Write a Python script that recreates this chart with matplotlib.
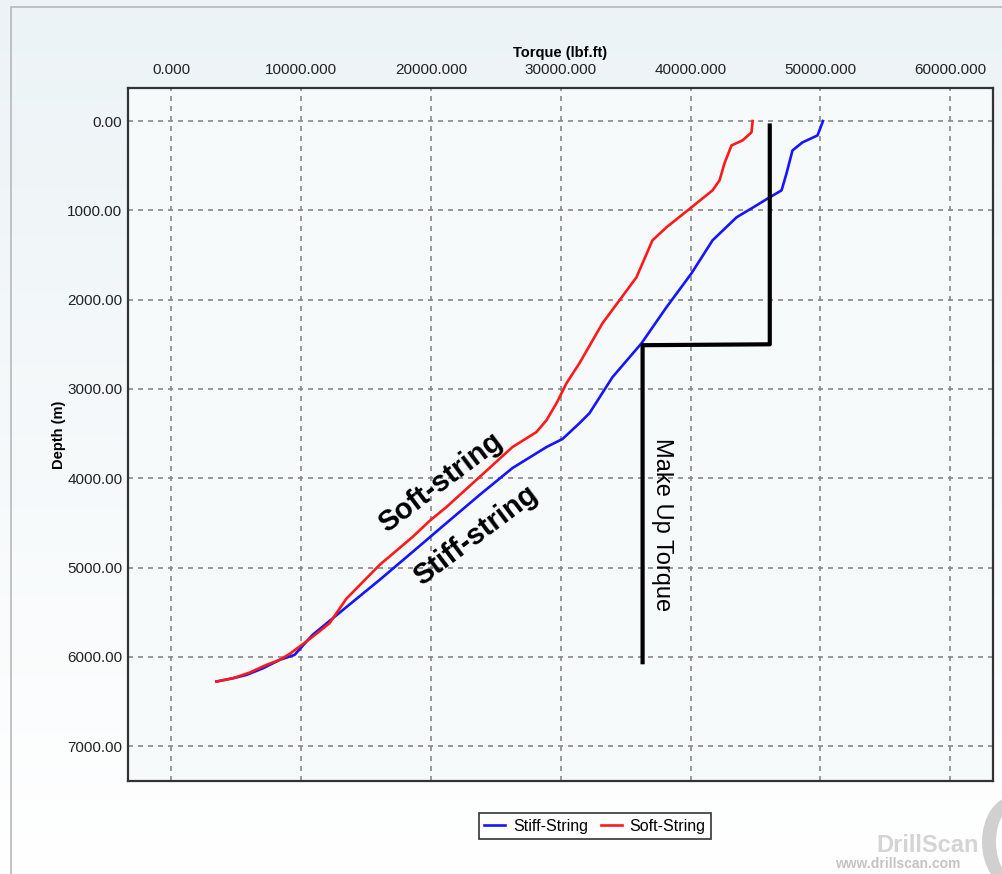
import numpy as np
import matplotlib
matplotlib.use('Agg')
import matplotlib.pyplot as plt
from matplotlib.ticker import FormatStrFormatter, MultipleLocator
from matplotlib.patches import Rectangle, Ellipse

plt.rcParams['font.family'] = ['Liberation Sans', 'DejaVu Sans']

# torque (lbf.ft) vs depth (m)
stiff_torque = [3470, 4750, 5780, 7060, 8330, 9480, 10870, 13490, 16030, 18570,
                21190, 23730, 26270, 28900, 30130, 31440, 32210, 33980,
                36220, 38140, 40070, 41690, 43540, 45080, 46080, 47010, 47390,
                47850, 48620, 49780, 50160, 50200]
stiff_depth = [6276, 6239, 6202, 6127, 6034, 5978, 5754, 5441, 5139, 4826,
               4501, 4188, 3886, 3650, 3560, 3383, 3271, 2868,
               2488, 2085, 1705, 1336, 1078, 944, 855, 776, 586,
               329, 239, 161, 16, 0]

soft_torque = [3470, 4750, 6020, 7310, 8330, 9100, 9870, 10890, 12180, 13470,
               16030, 18570, 19960, 21190, 23730, 26270, 28120, 28900, 29670,
               30440, 31440, 33210, 34520, 35830, 37060, 38140, 40070, 41690,
               42230, 42610, 43150, 44000, 44690, 44770, 44780]
soft_depth = [6276, 6239, 6176, 6090, 6034, 5967, 5885, 5773, 5623, 5350,
              4971, 4658, 4468, 4322, 3987, 3651, 3483, 3349, 3159,
              2935, 2711, 2264, 2007, 1749, 1336, 1190, 966, 776,
              664, 474, 273, 217, 127, 16, 0]

makeup_torque = [46100, 46100, 36300, 36300]
makeup_depth = [50, 2500, 2510, 6060]

fig = plt.figure(figsize=(10.03, 8.74), dpi=100)

# background gradient (light blue-grey at top to white at bottom)
bg = fig.add_axes([0, 0, 1, 1], zorder=-10)
grad = np.linspace(0, 1, 256).reshape(-1, 1)
top_c = np.array([0.925, 0.953, 0.965])
bot_c = np.array([1.0, 1.0, 1.0])
img = top_c + (bot_c - top_c) * grad[..., None]
bg.imshow(img, aspect='auto', extent=[0, 1, 0, 1], origin='upper')
bg.set_xlim(0, 1)
bg.set_ylim(0, 1)
bg.axis('off')
bg.add_patch(Rectangle((11 / 1003, -0.1), 1.2, 1 - 7 / 874 + 0.1,
                       fill=False, edgecolor='#b8b8b8', linewidth=1.2))
# logo crescent
bg.add_patch(Ellipse((1012 / 1003, 1 - 842 / 874), 60 / 1003, 90 / 874,
                     facecolor='#d0d0d0', edgecolor='none'))
bg.add_patch(Ellipse((1024 / 1003, 1 - 842 / 874), 56 / 1003, 84 / 874,
                     facecolor='white', edgecolor='none'))

ax = fig.add_axes([128 / 1003, 1 - 781 / 874, (993 - 128) / 1003, (781 - 88) / 874])
ax.set_facecolor('#f7fafb')

ax.plot(stiff_torque, stiff_depth, color='#1515ff', linewidth=1.9, label='Stiff-String', zorder=3)
ax.plot(soft_torque, soft_depth, color='#ff1a1a', linewidth=1.9, label='Soft-String', zorder=3)
ax.plot(makeup_torque, makeup_depth, color='black', linewidth=3.0, zorder=4)

ax.set_xlim(-3350, 63300)
ax.set_ylim(7390, -370)

ax.xaxis.tick_top()
ax.xaxis.set_label_position('top')
ax.xaxis.set_major_locator(MultipleLocator(10000))
ax.yaxis.set_major_locator(MultipleLocator(1000))
ax.xaxis.set_major_formatter(FormatStrFormatter('%.3f'))
ax.yaxis.set_major_formatter(FormatStrFormatter('%.2f'))
ax.tick_params(axis='both', length=0, labelsize=11, colors='#222222')
ax.tick_params(axis='x', pad=8)
ax.tick_params(axis='y', pad=4)

ax.set_xlabel('Torque (lbf.ft)', fontsize=10.5, fontweight='bold', labelpad=4)
ax.set_ylabel('Depth (m)', fontsize=10.5, fontweight='bold', labelpad=1)

ax.grid(True, color='#888888', linestyle=(0, (3, 3)), linewidth=1.2)
for s in ax.spines.values():
    s.set_color('#333333')
    s.set_linewidth(1.6)

ax.text(20730, 4043, 'Soft-string', rotation=37, fontsize=21, fontweight='bold',
        ha='center', va='center', rotation_mode='anchor')
ax.text(23430, 4635, 'Stiff-string', rotation=37, fontsize=21, fontweight='bold',
        ha='center', va='center', rotation_mode='anchor')
ax.text(37830, 4524, 'Make Up Torque', rotation=270, fontsize=17,
        ha='center', va='center', rotation_mode='anchor')

leg = fig.legend(loc='center', bbox_to_anchor=(595 / 1003, 1 - 826 / 874), ncol=2,
                 fontsize=11.5, frameon=True, fancybox=False, handlelength=1.3,
                 handletextpad=0.5, columnspacing=0.8, borderpad=0.35)
leg.get_frame().set_edgecolor('black')
leg.get_frame().set_linewidth(1.2)
leg.get_frame().set_facecolor('white')

# watermark
fig.text(928 / 1003, 1 - 846 / 874, 'DrillScan', fontsize=17, fontweight='bold',
         color='#d4d4d4', ha='center', va='center')
fig.text(898 / 1003, 1 - 864 / 874, 'www.drillscan.com', fontsize=10, fontweight='bold',
         color='#c4c4c4', ha='center', va='center')

fig.savefig('out.png', dpi=100)
